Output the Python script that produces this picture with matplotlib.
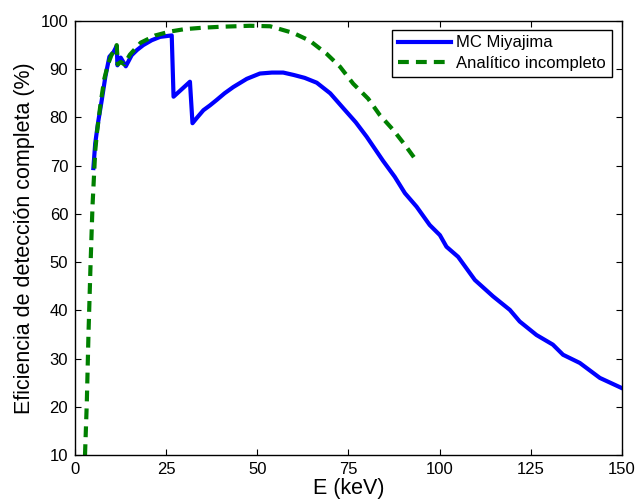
import matplotlib.pyplot as plt

plt.rcParams['font.family'] = ['Liberation Sans', 'DejaVu Sans']

# MC Miyajima
e_mc = [5.0, 5.5, 6.3, 7.3, 8.3, 9.4, 10.5, 11.4, 11.6, 12.5, 13.9, 15.5, 17.0, 18.7,
        21.0, 23.3, 26.5, 27.0, 31.5, 32.2, 33.5, 35.2, 37.0, 38.8, 41.0, 43.4, 47.1,
        50.7, 54.0, 57.1, 60.0, 63.0, 66.3, 70.0, 73.6, 77.0, 80.0, 84.5, 87.7, 90.5,
        93.7, 97.3, 100.1, 101.9, 105.1, 109.7, 114.7, 119.3, 122.0, 126.6, 131.1,
        133.9, 138.5, 144.0, 150.0]
ef_mc = [69.5, 74.6, 79.0, 83.6, 88.5, 92.6, 93.5, 94.8, 90.8, 92.4, 90.6, 92.9, 94.0, 95.0,
         96.0, 96.7, 97.0, 84.3, 87.4, 78.8, 80.0, 81.5, 82.5, 83.6, 85.0, 86.3, 88.0,
         89.1, 89.3, 89.3, 88.8, 88.2, 87.2, 85.0, 81.9, 79.0, 76.0, 71.0, 67.7, 64.3,
         61.5, 57.7, 55.6, 53.2, 51.1, 46.3, 42.9, 40.1, 37.7, 34.9, 32.9,
         30.8, 29.1, 26.0, 23.9]

# Analitico incompleto
e_an = [2.7, 3.2, 3.65, 4.2, 4.75, 5.5, 6.0, 7.0, 8.0, 9.0, 10.0, 11.0, 11.4, 11.7, 12.5,
        13.5, 15.0, 18.0, 22.0, 26.0, 30.0, 35.0, 40.0, 48.0, 53.5, 59.9, 64.4, 69.0,
        72.7, 76.3, 80.4, 83.6, 87.3, 90.5, 93.5]
ef_an = [10.0, 21.0, 35.0, 49.0, 61.5, 73.0, 77.0, 83.0, 88.0, 91.0, 93.0, 94.3, 95.0, 91.0, 91.5,
         91.0, 93.0, 95.5, 97.0, 97.8, 98.3, 98.6, 98.8, 99.0, 98.9, 97.5, 95.9, 93.2,
         90.5, 87.0, 83.9, 80.5, 77.4, 74.3, 71.2]

fig = plt.figure(figsize=(6.37, 4.99), dpi=100)
ax = fig.add_axes([0.118, 0.088, 0.858, 0.870])

ax.plot(e_mc, ef_mc, color='#0000ff', lw=3, label='MC Miyajima')
ax.plot(e_an, ef_an, color='#008000', lw=3, dashes=(2.6, 1.7), label='Analítico incompleto')

ax.set_xlim(0, 150)
ax.set_ylim(10, 100)
ax.set_xticks([0, 25, 50, 75, 100, 125, 150])
ax.set_yticks(range(10, 101, 10))
ax.tick_params(direction='in', top=True, right=True, length=4, width=0.8, labelsize=12, pad=5)
for s in ax.spines.values():
    s.set_linewidth(1.0)

ax.set_xlabel('E (keV)', fontsize=15.5, labelpad=1)
ax.set_ylabel('Eficiencia de detección completa (%)', fontsize=15.5, labelpad=4)

leg = ax.legend(loc='upper right', bbox_to_anchor=(0.982, 0.98), fontsize=12,
                fancybox=False, framealpha=1, edgecolor='black', handlelength=3.2,
                borderpad=0.35, labelspacing=0.33, handletextpad=0.3, borderaxespad=0)
leg.get_frame().set_linewidth(1.0)

fig.savefig('out.png', dpi=100)
